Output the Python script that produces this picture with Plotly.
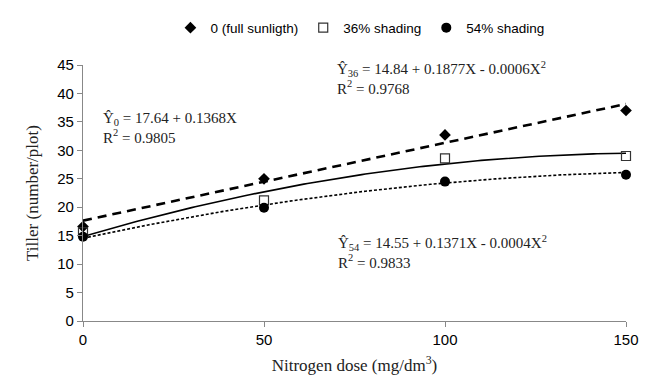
import numpy as np
import plotly.graph_objects as go

# Data
nitrogen = [0, 50, 100, 150]
full_sun = [16.6, 25.0, 32.7, 37.0]
shade36 = [15.6, 21.2, 28.6, 29.0]
shade54 = [14.8, 19.9, 24.5, 25.7]

series_names = ["0 (full sunligth)", "36% shading", "54% shading"]

# Regression coefficients shown on the chart (c0, c1, c2)
coef_full = [17.64, 0.1368, 0.0]
coef_36 = [14.84, 0.1877, -0.0006]
coef_54 = [14.55, 0.1371, -0.0004]

eq_texts = [
    "Ŷ<sub>0</sub> = 17.64 + 0.1368X<br>R<sup>2</sup> = 0.9805",
    "Ŷ<sub>36</sub> = 14.84 + 0.1877X - 0.0006X<sup>2</sup><br>R<sup>2</sup> = 0.9768",
    "Ŷ<sub>54</sub> = 14.55 + 0.1371X - 0.0004X<sup>2</sup><br>R<sup>2</sup> = 0.9833",
]

xs = np.linspace(0, 150, 151)


def curve(c):
    return c[0] + c[1] * xs + c[2] * xs ** 2


fig = go.Figure()

# Trend lines
fig.add_trace(go.Scatter(x=xs, y=curve(coef_full), mode="lines", showlegend=False,
                         line=dict(color="black", width=2.6, dash="9px,6px"), hoverinfo="skip"))
fig.add_trace(go.Scatter(x=xs, y=curve(coef_36), mode="lines", showlegend=False,
                         line=dict(color="black", width=1.6), hoverinfo="skip"))
fig.add_trace(go.Scatter(x=xs, y=curve(coef_54), mode="lines", showlegend=False,
                         line=dict(color="black", width=1.6, dash="3px,2px"), hoverinfo="skip"))

# Markers
fig.add_trace(go.Scatter(x=nitrogen, y=full_sun, mode="markers", name=series_names[0],
                         cliponaxis=False,
                         marker=dict(symbol="diamond", size=9, color="black")))
fig.add_trace(go.Scatter(x=nitrogen, y=shade36, mode="markers", name=series_names[1],
                         cliponaxis=False,
                         marker=dict(symbol="square-open", size=9, color="#333333",
                                     line=dict(width=1.2))))
fig.add_trace(go.Scatter(x=nitrogen, y=shade54, mode="markers", name=series_names[2],
                         cliponaxis=False,
                         marker=dict(symbol="circle", size=10, color="black")))

serif = "Liberation Serif, Times New Roman, serif"
sans = "Liberation Sans, Arial, sans-serif"

fig.add_annotation(x=5, y=37.4, xref="x", yref="y", text=eq_texts[0], showarrow=False,
                   xanchor="left", yanchor="top", align="left",
                   font=dict(family=serif, size=15, color="#222"))
fig.add_annotation(x=69.5, y=1.03, xref="x", yref="paper", text=eq_texts[1], showarrow=False,
                   xanchor="left", yanchor="top", align="left",
                   font=dict(family=serif, size=15, color="#222"))
fig.add_annotation(x=70, y=15.9, xref="x", yref="y", text=eq_texts[2], showarrow=False,
                   xanchor="left", yanchor="top", align="left",
                   font=dict(family=serif, size=15, color="#222"))

fig.update_layout(
    width=651, height=388,
    margin=dict(l=83, r=19, t=62, b=67),
    plot_bgcolor="white", paper_bgcolor="white",
    showlegend=True,
    legend=dict(orientation="h", x=0.51, xanchor="center", y=1.145, yanchor="middle",
                font=dict(family=sans, size=13.5, color="black"),
                itemwidth=30, tracegroupgap=0, bgcolor="rgba(0,0,0,0)"),
    font=dict(family=sans, color="black"),
)

fig.update_xaxes(range=[0, 150], tickvals=[0, 50, 100, 150], showgrid=False, zeroline=False,
                 showline=True, linecolor="#888888", linewidth=1.2,
                 ticks="outside", ticklen=5, tickcolor="#888888",
                 tickfont=dict(family=sans, size=15, color="black"),
                 title=dict(text="Nitrogen dose (mg/dm<sup>3</sup>)",
                            font=dict(family=serif, size=17, color="#222"), standoff=12))
fig.update_yaxes(range=[0, 45], tickvals=list(range(0, 46, 5)), showgrid=False, zeroline=False,
                 showline=True, linecolor="#888888", linewidth=1.2,
                 ticks="outside", ticklen=5, tickcolor="#888888",
                 tickfont=dict(family=sans, size=15, color="black"),
                 title=dict(text="Tiller (number/plot)",
                            font=dict(family=serif, size=17, color="#222"), standoff=14))

fig.write_html("out.html")
